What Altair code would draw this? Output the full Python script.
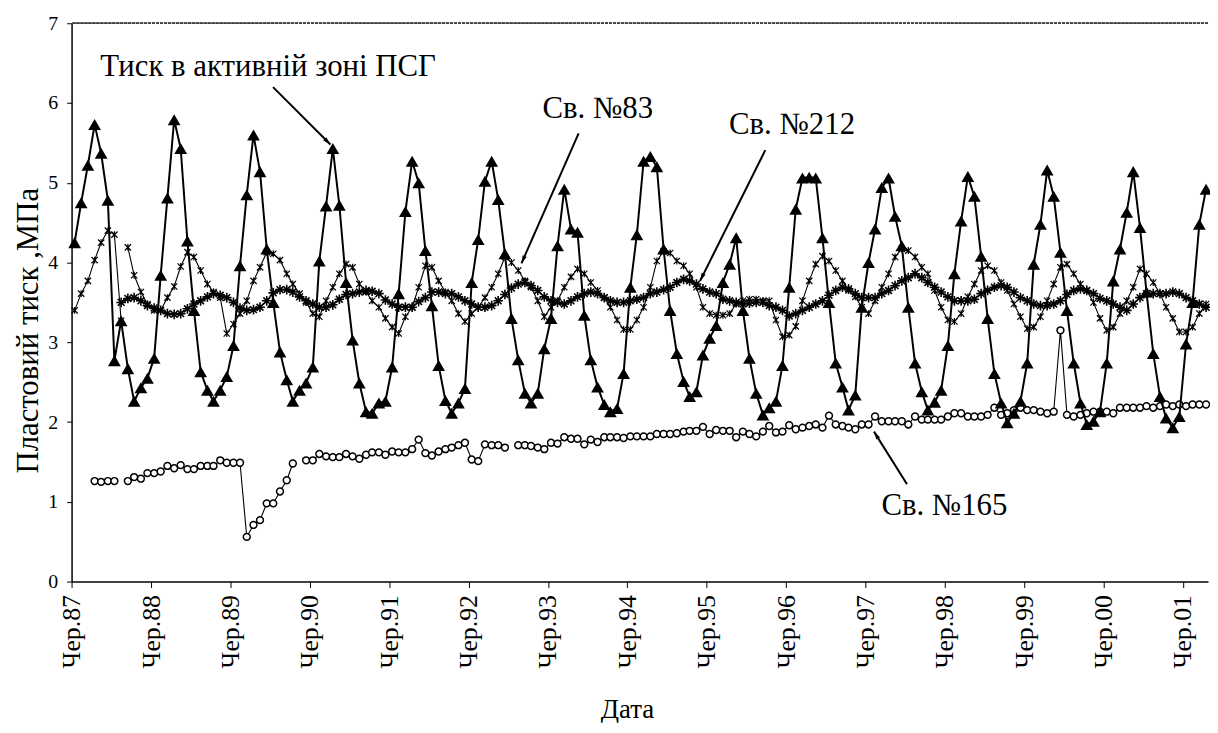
import altair as alt
import pandas as pd

# ---------------- data (monthly, from June 1987) ----------------
first_month = "1987-06-01"
n_months = 172

# Тиск в активній зоні ПСГ (triangles)
psg = [4.25, 4.75, 5.22, 5.73, 5.37, 4.78, 2.77, 3.27, 2.67, 2.26, 2.43, 2.55,
       2.80, 3.84, 4.81, 5.79, 5.43, 4.27, 3.40, 2.63, 2.40, 2.26, 2.40, 2.57,
       2.96, 3.96, 4.85, 5.60, 5.14, 4.17, 3.50, 2.88, 2.53, 2.26, 2.40, 2.49,
       2.69, 4.02, 4.71, 5.43, 4.72, 3.75, 3.03, 2.49, 2.13, 2.11, 2.24, 2.26,
       2.69, 3.61, 4.64, 5.27, 5.00, 4.15, 3.46, 2.71, 2.27, 2.11, 2.24, 2.42,
       3.75, 4.29, 5.02, 5.27, 4.79, 4.11, 3.30, 2.78, 2.36, 2.24, 2.36, 2.92,
       3.30, 4.21, 4.92, 4.42, 4.38, 3.34, 2.78, 2.44, 2.22, 2.13, 2.17, 2.61,
       3.69, 4.35, 5.27, 5.33, 5.20, 4.17, 3.40, 2.86, 2.51, 2.32, 2.38, 2.84,
       3.05, 3.21, 3.75, 3.98, 4.31, 3.40, 2.80, 2.36, 2.09, 2.18, 2.26, 2.71,
       3.69, 4.67, 5.06, 5.07, 5.06, 4.31, 3.50, 2.74, 2.44, 2.15, 2.34, 3.44,
       4.00, 4.42, 4.94, 5.06, 4.58, 4.21, 3.44, 2.74, 2.38, 2.15, 2.25, 2.40,
       2.96, 3.86, 4.52, 5.08, 4.83, 4.08, 3.30, 2.61, 2.24, 1.99, 2.11, 2.26,
       2.74, 3.98, 4.48, 5.16, 4.83, 4.13, 3.40, 2.74, 2.24, 1.97, 2.01, 2.13,
       2.74, 3.77, 4.17, 4.63, 5.14, 4.44, 3.63, 2.86, 2.32, 2.05, 1.93, 2.07,
       2.98, 3.50, 4.48, 4.92]

# Св. №83
w83 = [3.40, 3.61, 3.77, 4.03, 4.25, 4.40, 4.35, 3.27, 4.19, 3.84, 3.63, 3.48,
       3.40, 3.40, 3.56, 3.70, 3.95, 4.13, 4.07, 3.90, 3.73, 3.63, 3.56, 3.11,
       3.23, 3.36, 3.52, 3.77, 3.94, 4.13, 4.11, 4.03, 3.86, 3.73, 3.61, 3.50,
       3.36, 3.32, 3.52, 3.69, 3.86, 3.98, 3.94, 3.73, 3.63, 3.52, 3.44, 3.30,
       3.19, 3.11, 3.32, 3.44, 3.69, 3.96, 3.94, 3.77, 3.63, 3.52, 3.36, 3.26,
       3.36, 3.44, 3.56, 3.69, 3.86, 4.07, 4.00, 3.90, 3.77, 3.69, 3.52, 3.32,
       3.44, 3.52, 3.69, 3.82, 3.92, 3.86, 3.75, 3.65, 3.56, 3.44, 3.28, 3.16,
       3.16, 3.28, 3.44, 3.69, 4.02, 4.14, 4.12, 4.02, 3.96, 3.86, 3.69, 3.44,
       3.36, 3.34, 3.34, 3.36, 3.48, 3.52, 3.54, 3.54, 3.52, 3.52, 3.28, 3.07,
       3.09, 3.20, 3.52, 3.77, 3.98, 4.08, 4.02, 3.90, 3.77, 3.65, 3.57, 3.44,
       3.36, 3.52, 3.69, 3.86, 4.07, 4.17, 4.15, 4.07, 3.94, 3.86, 3.65, 3.44,
       3.28, 3.26, 3.36, 3.57, 3.73, 3.90, 3.96, 3.90, 3.75, 3.65, 3.48, 3.32,
       3.17, 3.19, 3.32, 3.52, 3.73, 3.94, 3.98, 3.86, 3.73, 3.65, 3.50, 3.30,
       3.15, 3.19, 3.36, 3.52, 3.69, 3.92, 3.86, 3.75, 3.61, 3.44, 3.30, 3.13,
       3.13, 3.19, 3.36, 3.48]
w83_break_after = 7  # the line is interrupted after this month

# Св. №212
w212 = [None, None, None, None, None, None, None,
        3.50, 3.55, 3.56, 3.52, 3.46,
        3.43, 3.40, 3.36, 3.35, 3.36, 3.42, 3.48, 3.52, 3.57, 3.61, 3.59, 3.56,
        3.50, 3.43, 3.40, 3.41, 3.44, 3.52, 3.62, 3.66, 3.66, 3.63, 3.57, 3.52,
        3.48, 3.44, 3.44, 3.47, 3.54, 3.60, 3.61, 3.63, 3.65, 3.64, 3.61, 3.53,
        3.48, 3.44, 3.44, 3.44, 3.51, 3.56, 3.63, 3.63, 3.61, 3.61, 3.57, 3.52,
        3.48, 3.44, 3.44, 3.46, 3.52, 3.60, 3.68, 3.73, 3.75, 3.71, 3.65, 3.57,
        3.52, 3.50, 3.48, 3.52, 3.57, 3.61, 3.63, 3.61, 3.56, 3.52, 3.50, 3.50,
        3.52, 3.54, 3.56, 3.61, 3.63, 3.66, 3.69, 3.75, 3.79, 3.77, 3.73, 3.67,
        3.63, 3.61, 3.54, 3.52, 3.50, 3.48, 3.49, 3.50, 3.50, 3.46, 3.44, 3.40,
        3.33, 3.36, 3.40, 3.44, 3.48, 3.52, 3.59, 3.65, 3.69, 3.67, 3.61, 3.56,
        3.56, 3.56, 3.61, 3.65, 3.71, 3.77, 3.81, 3.86, 3.81, 3.75, 3.69, 3.63,
        3.57, 3.52, 3.52, 3.52, 3.54, 3.61, 3.65, 3.69, 3.71, 3.69, 3.63, 3.56,
        3.52, 3.48, 3.46, 3.46, 3.48, 3.52, 3.60, 3.65, 3.67, 3.65, 3.61, 3.55,
        3.52, 3.48, 3.44, 3.40, 3.48, 3.56, 3.61, 3.61, 3.61, 3.61, 3.63, 3.61,
        3.56, 3.52, 3.48, 3.44]

# Св. №165 (None = no measurement, the line is broken there)
w165 = [None, None, None, 1.26, 1.25, 1.26, 1.26, None, 1.26, 1.31, 1.29, 1.36,
        1.36, 1.38, 1.45, 1.42, 1.46, 1.41, 1.41, 1.45, 1.45, 1.45, 1.52, 1.49,
        1.49, 1.49, 0.56, 0.71, 0.77, 0.98, 0.98, 1.13, 1.27, 1.48, None, 1.52,
        1.52, 1.60, 1.57, 1.56, 1.56, 1.60, 1.57, 1.54, 1.59, 1.62, 1.62, 1.59,
        1.63, 1.62, 1.62, 1.66, 1.78, 1.61, 1.58, 1.63, 1.66, 1.68, 1.71, 1.74,
        1.53, 1.51, 1.72, 1.71, 1.71, 1.68, None, 1.71, 1.71, 1.70, 1.68, 1.66,
        1.74, 1.73, 1.81, 1.79, 1.79, 1.72, 1.78, 1.75, 1.81, 1.81, 1.81, 1.80,
        1.82, 1.82, 1.82, 1.82, 1.85, 1.85, 1.85, 1.86, 1.88, 1.89, 1.89, 1.94,
        1.85, 1.90, 1.89, 1.89, 1.81, 1.88, 1.85, 1.82, 1.88, 1.95, 1.87, 1.88,
        1.96, 1.91, 1.93, 1.95, 1.97, 1.93, 2.08, 1.97, 1.95, 1.93, 1.91, 1.97,
        1.97, 2.07, 2.01, 2.01, 2.01, 2.01, 1.97, 2.07, 2.03, 2.03, 2.03, 2.03,
        2.07, 2.11, 2.11, 2.07, 2.07, 2.07, 2.09, 2.18, 2.09, 2.11, 2.15, 2.18,
        2.15, 2.15, 2.13, 2.11, 2.13, 3.15, 2.09, 2.07, 2.09, 2.11, 2.13, 2.13,
        2.13, 2.11, 2.18, 2.18, 2.18, 2.18, 2.20, 2.18, 2.20, 2.22, 2.20, 2.22,
        2.20, 2.22, 2.22, 2.22]

tick_years = list(range(1987, 2002))

# annotation texts and arrows (data coordinates)
ann_text = ["Тиск в активній зоні ПСГ", "Св. №83", "Св. №212", "Св. №165"]
ann_date = ["1989-11-21", "1994-01-16", "1996-06-28", "1998-05-30"]
ann_value = [6.45, 5.92, 5.73, 0.95]

arrow_from_date = ["1989-12-14", "1993-10-20", "1996-02-26", "1997-12-09"]
arrow_from_value = [6.20, 5.62, 5.41, 1.22]
arrow_to_date = ["1990-09-04", "1993-01-30", "1995-05-02", "1997-07-10"]
arrow_to_value = [5.48, 3.99, 3.77, 1.88]
arrow_angle = [135, 204, 206, 328]

# ---------------- build tables ----------------
dates = pd.date_range(first_month, periods=n_months, freq="MS") + pd.Timedelta(days=14)


def make_frame(values, extra_break=None):
    rows, seg = [], 0
    for i, v in enumerate(values):
        if v is None:
            seg += 1
            continue
        rows.append({"date": dates[i], "value": v, "seg": seg})
        if extra_break is not None and i == extra_break:
            seg += 1
    return pd.DataFrame(rows)


df_psg = make_frame(psg)
df_83 = make_frame(w83, w83_break_after)
df_212 = make_frame(w212)
df_165 = make_frame(w165)

df_ann = pd.DataFrame({"date": pd.to_datetime(ann_date), "value": ann_value, "text": ann_text})
df_arr = pd.DataFrame({
    "x0": pd.to_datetime(arrow_from_date), "y0": arrow_from_value,
    "x1": pd.to_datetime(arrow_to_date), "y1": arrow_to_value,
    "angle": arrow_angle,
})

SERIF = "'Liberation Serif', 'Times New Roman', 'DejaVu Serif', serif"

xscale = alt.Scale(domain=[alt.DateTime(year=1987, month=6, date=1),
                           alt.DateTime(year=2001, month=9, date=24)])
yscale = alt.Scale(domain=[0, 7], nice=False)

xaxis = alt.Axis(
    values=[alt.DateTime(year=y, month=6, date=1) for y in tick_years],
    format="Чер.%y", labelAngle=270, labelAlign="right", labelBaseline="middle",
    labelFont=SERIF, labelFontSize=26, labelColor="black", labelPadding=7,
    labelOverlap=False, labelFlush=False, tickSize=6, tickColor="black",
    domainColor="black", domainWidth=1.5, grid=False,
    title="Дата", titleFont=SERIF, titleFontSize=27, titleFontWeight="normal",
    titleColor="black", titleX=559, titleY=129, titleAlign="center",
    titleBaseline="middle",
)
yaxis = alt.Axis(
    values=list(range(0, 8)), format="d", labelFont=SERIF, labelFontSize=20,
    labelColor="black", labelPadding=9, tickSize=5, tickColor="black",
    domainColor="black", domainWidth=1.5, grid=False,
    title="Пластовий тиск ,МПа", titleFont=SERIF, titleFontSize=31,
    titleFontWeight="normal", titleColor="black", titleAngle=270,
    titleX=-43, titleY=309, titleAlign="center", titleBaseline="middle",
)

X = alt.X("date:T", scale=xscale, axis=xaxis)
Y = alt.Y("value:Q", scale=yscale, axis=yaxis)

star_path = "M-1,0L1,0M0,-1L0,1M-0.7,-0.7L0.7,0.7M-0.7,0.7L0.7,-0.7"
x_path = "M-1,-1L1,1M-1,1L1,-1M0,-1.1L0,1.1"
arrow_path = "M0,0L-0.55,2L0.55,2Z"


def series(df, line_w, point_kw):
    base = alt.Chart(df).encode(x=X, y=Y)
    line = base.mark_line(color="black", strokeWidth=line_w).encode(detail="seg:N")
    pts = base.mark_point(**point_kw)
    return line + pts


l165 = series(df_165, 1.1, dict(shape="circle", size=48, filled=True, fill="white",
                                 stroke="black", strokeWidth=1.5, opacity=1))
l212 = series(df_212, 1.3, dict(shape=star_path, size=95, filled=False,
                                 color="black", strokeWidth=1.6, opacity=1))
l83 = series(df_83, 1.1, dict(shape=x_path, size=40, filled=False,
                               color="black", strokeWidth=1.2, opacity=1))
lpsg = series(df_psg, 2.0, dict(shape="triangle-up", size=165, filled=True,
                                 color="black", opacity=1))

top_border = alt.Chart(df_ann).mark_rule(color="#444", strokeWidth=1.5,
                                         strokeDash=[3, 1]).encode(y=alt.datum(7))

texts = alt.Chart(df_ann).mark_text(font=SERIF, fontSize=31, color="black",
                                    align="center", baseline="middle").encode(
    x=X, y=Y, text="text:N")

arrow_lines = alt.Chart(df_arr).mark_rule(color="black", strokeWidth=2).encode(
    x=alt.X("x0:T", scale=xscale, axis=xaxis), x2="x1:T",
    y=alt.Y("y0:Q", scale=yscale, axis=yaxis), y2="y1:Q")
arrow_heads = alt.Chart(df_arr).mark_point(shape=arrow_path, size=64, filled=True,
                                           color="black", opacity=1).encode(
    x=alt.X("x1:T", scale=xscale, axis=xaxis),
    y=alt.Y("y1:Q", scale=yscale, axis=yaxis),
    angle=alt.Angle("angle:Q", scale=None))

chart = alt.layer(
    top_border, l165, l212, l83, lpsg, arrow_lines, arrow_heads, texts
).properties(
    width=1144, height=562,
    autosize=alt.AutoSizeParams(type="none"),
    padding={"left": 64, "top": 13, "right": 2, "bottom": 140},
    background="white",
).configure_view(stroke=None)

chart.save("out.html", embed_options={"renderer": "svg", "actions": False})
